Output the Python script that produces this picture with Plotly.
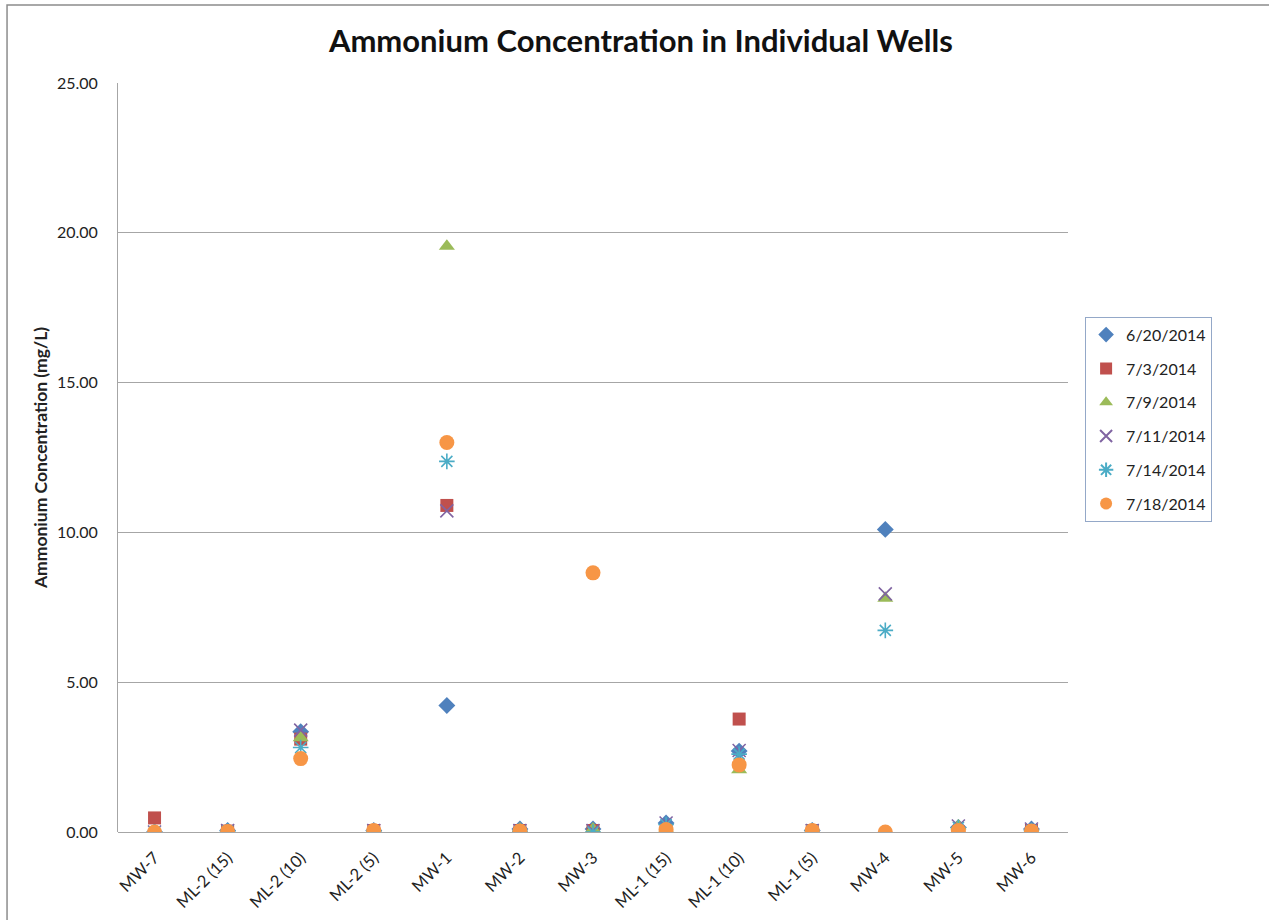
import plotly.graph_objects as go

wells = ["MW-7", "ML-2 (15)", "ML-2 (10)", "ML-2 (5)", "MW-1", "MW-2", "MW-3",
         "ML-1 (15)", "ML-1 (10)", "ML-1 (5)", "MW-4", "MW-5", "MW-6"]

d_0620 = [0.00, 0.05, 3.35, 0.05, 4.22, 0.10, 0.10, 0.30, 2.70, 0.05, 10.10, 0.15, 0.10]
d_0703 = [0.47, 0.03, 3.10, 0.05, 10.90, 0.05, 0.05, 0.05, 3.77, 0.05, None, 0.00, 0.05]
d_0709 = [0.00, 0.03, 3.15, 0.05, 19.55, 0.10, 0.10, 0.10, 2.08, 0.05, 7.80, 0.20, 0.05]
d_0711 = [0.00, 0.05, 3.40, 0.05, 10.72, 0.05, 0.05, 0.30, 2.72, 0.05, 7.95, 0.20, 0.10]
d_0714 = [0.00, 0.03, 2.82, 0.03, 12.37, 0.03, 0.00, 0.25, 2.60, 0.05, 6.73, 0.15, 0.05]
d_0718 = [0.00, 0.02, 2.45, 0.05, 13.00, 0.03, 8.65, 0.08, 2.24, 0.05, 0.00, 0.05, 0.03]

series = [
    ("6/20/2014", d_0620, "diamond", "#4F81BD", 13),
    ("7/3/2014", d_0703, "square", "#C0504D", 13),
    ("7/9/2014", d_0709, "triangle-up", "#9BBB59", 14),
    ("7/11/2014", d_0711, "x-thin-open", "#8064A2", 13),
    ("7/14/2014", d_0714, "asterisk-open", "#4BACC6", 13),
    ("7/18/2014", d_0718, "circle", "#F79646", 15),
]

FONT = "Lato, 'Open Sans', sans-serif"

fig = go.Figure()
for i, (name, vals, sym, col, size) in enumerate(series):
    marker = dict(symbol=sym, color=col, size=size)
    if sym.endswith("-open"):
        marker["line"] = dict(color=col, width=1.6)
    else:
        marker["line"] = dict(width=0)
    fig.add_trace(go.Scatter(x=wells, y=vals, mode="markers", name=name,
                             marker=marker, legendgroup=str(i)))

fig.update_layout(
    width=1269, height=920,
    margin=dict(l=118, r=201, t=83, b=88),
    paper_bgcolor="white", plot_bgcolor="white",
    font=dict(family=FONT, color="#222222"),
    title=dict(text="<b>Ammonium Concentration in Individual Wells</b>",
               x=0.505, xanchor="center", y=0.955, yanchor="middle",
               font=dict(size=31, family=FONT, color="#111111")),
    showlegend=True,
    legend=dict(x=1.018, y=0.688, xanchor="left", yanchor="top",
                bordercolor="#94A8C8", borderwidth=1, bgcolor="white",
                font=dict(size=16, family=FONT, color="#222222"),
                tracegroupgap=10, itemsizing="constant", itemwidth=30),
    xaxis=dict(type="category", range=[-0.5, 12.5], tickangle=-45,
               tickfont=dict(size=16.5, family=FONT), showgrid=False,
               showline=False, zeroline=False, ticks="",
               ticklabelstandoff=12, automargin=False),
    yaxis=dict(range=[0, 25], dtick=5, tickformat=".2f",
               tickfont=dict(size=16, family=FONT),
               showgrid=True, gridcolor="#A6A6A6", gridwidth=1,
               showline=True, linecolor="#A6A6A6", linewidth=1,
               zeroline=True, zerolinecolor="#A6A6A6", zerolinewidth=1,
               ticks="", ticklabelstandoff=16, automargin=False,
               title=dict(text="<b>Ammonium Concentration (mg/L)</b>",
                          font=dict(size=17.5, family=FONT), standoff=4)),
    shapes=[dict(type="rect", xref="paper", yref="paper",
                 x0=-0.1168, x1=1.3, y0=-0.2, y1=1.104,
                 line=dict(color="#8C8C8C", width=1.5), layer="below")],
)

fig.write_html("out.html")
